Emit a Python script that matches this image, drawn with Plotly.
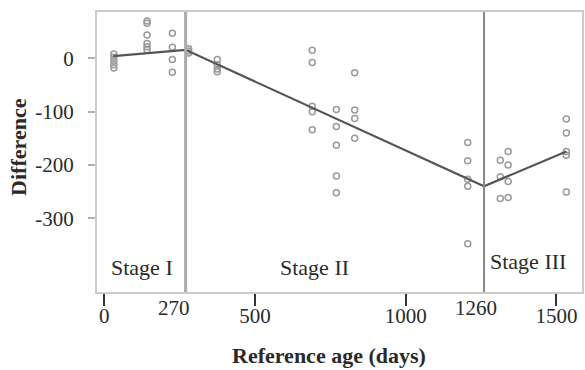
import plotly.graph_objects as go

# Observations: reference age (days) and the measured difference
obs_days = (
    [32] * 5 + [142] * 6 + [226] * 4 + [280] * 3 + [375] * 4
    + [690] * 5 + [770] * 5 + [831] * 4 + [1206] * 5
    + [1314] * 3 + [1340] * 4 + [1533] * 5
)
obs_diff = (
    [8, 2, -5, -12, -18]
    + [70, 66, 44, 28, 22, 16]
    + [47, 21, -2, -26]
    + [18, 14, 10]
    + [-2, -12, -20, -25]
    + [15, -8, -90, -100, -134]
    + [-96, -128, -163, -221, -252]
    + [-27, -97, -113, -150]
    + [-158, -192, -227, -240, -348]
    + [-191, -222, -263]
    + [-175, -200, -231, -261]
    + [-114, -140, -175, -182, -251]
)

# Piecewise linear fit with breakpoints at the stage boundaries
fit_days = [30, 270, 1260, 1533]
fit_diff = [4, 16, -240, -175]

stage_breaks = [270, 1260]
stage_names = ["Stage I", "Stage II", "Stage III"]
stage_label_x = [15, 696, 1405]
stage_label_y = [-393, -393, -382]
stage_label_anchor = ["left", "center", "center"]

x_ticks = [0, 500, 1000, 1500]
y_ticks = [0, -100, -200, -300]

FONT = "Liberation Serif"
TXT = "#2a2a2a"

fig = go.Figure()

fig.add_trace(go.Scatter(
    x=obs_days, y=obs_diff, mode="markers",
    marker=dict(symbol="circle-open", size=6, color="#9a9a9a",
                line=dict(width=1.5, color="#9a9a9a")),
    showlegend=False, hoverinfo="skip",
))

fig.add_trace(go.Scatter(
    x=fit_days, y=fit_diff, mode="lines",
    line=dict(color="#555555", width=2.2),
    showlegend=False, hoverinfo="skip",
))

break_colors = ["#aaaaaa", "#888888"]
break_widths = [3, 2]
for xb, c, w in zip(stage_breaks, break_colors, break_widths):
    fig.add_shape(type="line", xref="x", yref="paper", x0=xb, x1=xb, y0=0, y1=1,
                  line=dict(color=c, width=w), layer="above")

annotations = []
for name, sx, sy, anc in zip(stage_names, stage_label_x, stage_label_y, stage_label_anchor):
    annotations.append(dict(x=sx, y=sy, xref="x", yref="y", text=name, showarrow=False,
                            xanchor=anc, yanchor="middle",
                            font=dict(family=FONT, size=22, color=TXT)))

# Boundary day labels placed just left of each boundary line
for xb, shift in zip(stage_breaks, [-12, -8]):
    annotations.append(dict(x=xb, y=-0.057, xref="x", yref="paper", text=str(xb),
                            showarrow=False, xanchor="center", yanchor="middle", xshift=shift,
                            font=dict(family=FONT, size=21, color=TXT)))

annotations.append(dict(x=0.478, y=-0.225, xref="paper", yref="paper",
                        text="<b>Reference age (days)</b>", showarrow=False,
                        xanchor="center", yanchor="middle",
                        font=dict(family=FONT, size=22, color=TXT)))
annotations.append(dict(x=-0.161, y=0.518, xref="paper", yref="paper",
                        text="<b>Difference</b>", showarrow=False, textangle=-90,
                        xanchor="center", yanchor="middle",
                        font=dict(family=FONT, size=22, color=TXT)))

fig.update_layout(
    width=585, height=370,
    margin=dict(l=97, r=1, t=12, b=78),
    paper_bgcolor="white", plot_bgcolor="white",
    annotations=annotations,
    xaxis=dict(
        range=[-24, 1585], showgrid=False, zeroline=False,
        showline=True, mirror=True, linecolor="#cccccc", linewidth=2,
        ticks="outside", ticklen=12, tickwidth=2, tickcolor="#333333",
        tickvals=x_ticks, ticktext=[str(v) for v in x_ticks],
        tickfont=dict(family=FONT, size=21, color=TXT),
        ticklabelstandoff=-8,
    ),
    yaxis=dict(
        range=[-438.5, 87], showgrid=False, zeroline=False,
        showline=True, mirror=True, linecolor="#cccccc", linewidth=2,
        ticks="outside", ticklen=7, tickwidth=2, tickcolor="#b0b0b0",
        tickvals=y_ticks, ticktext=[str(v) for v in y_ticks],
        tickfont=dict(family=FONT, size=21, color=TXT),
        ticklabelstandoff=10,
    ),
)

fig.write_html("out.html")
